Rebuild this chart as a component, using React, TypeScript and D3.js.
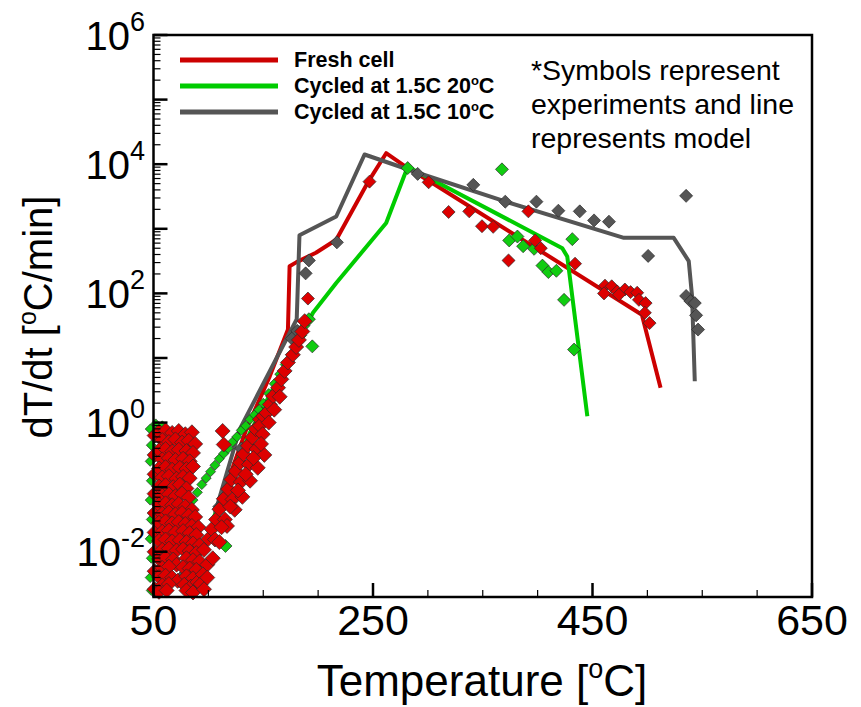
import React from "react";
import * as d3 from "d3";

const W = 861;
const H = 707;

// Axis definitions
const xDomain = [50, 650];
const xMajorTicks = [50, 250, 450, 650];
const xMinorTicks = [100, 150, 200, 300, 350, 400, 500, 550, 600];
const yExpDomain = [-2.7, 6];
const yLabelExps = [6, 4, 2, 0, -2];

// Model lines: [Temperature °C, log10(dT/dt °C/min)]
const freshModel = [
  [100, -1.75], [134.7, -0.1], [156, 0.72], [172.5, 1.44], [174, 2.42], [180, 2.48],
  [198, 2.63], [216.5, 2.83], [245, 3.71], [262, 4.17], [280, 3.96], [304, 3.71],
  [495, 1.67], [512, 0.54],
];
const cycled20Model = [
  [104, -1.5], [137.7, -0.16], [195.3, 1.7], [216.5, 2.16], [262, 3.09],
  [281.6, 3.96], [422.5, 2.7], [427, 2.57], [445.3, 0.1],
];
const cycled10Model = [
  [106, -1.4], [128.6, -0.1], [180.5, 1.6], [183, 2.9], [216.5, 3.19], [242.3, 4.15],
  [292, 3.86], [371, 3.42], [478.6, 2.86], [524, 2.86], [537.7, 2.5], [540.7, 1.96],
  [543.2, 0.64],
];

// Experiments: [Temperature °C, log10(dT/dt °C/min)]
const freshExpLow = [
  [51, -0.2], [51, -0.5], [51, -0.8], [51, -1.1], [51, -1.4], [51, -1.7], [51, -2.0],
  [51, -2.3], [51, -2.58],
  [55, -0.14], [61, -0.12], [67, -0.16], [73, -0.13], [79, -0.18], [85, -0.15],
  [58, -0.27], [64, -0.3], [70, -0.26], [76, -0.31], [82, -0.28], [88, -0.33],
  [55, -0.43], [61, -0.41], [67, -0.45], [73, -0.42], [80, -0.44], [86, -0.47],
  [58, -0.57], [64, -0.55], [70, -0.58], [77, -0.56], [83, -0.6],
  [55, -0.71], [61, -0.69], [67, -0.73], [74, -0.7], [80, -0.72], [86, -0.68],
  [58, -0.85], [64, -0.83], [71, -0.87], [77, -0.84], [83, -0.86],
  [55, -0.99], [61, -0.97], [68, -1.0], [74, -0.96], [80, -1.02],
  [58, -1.13], [64, -1.11], [70, -1.14], [76, -1.1], [82, -1.16],
  [55, -1.27], [61, -1.25], [67, -1.28], [73, -1.26], [79, -1.3], [85, -1.35],
  [58, -1.41], [64, -1.39], [70, -1.42], [76, -1.4], [82, -1.44], [88, -1.46],
  [55, -1.55], [61, -1.53], [67, -1.56], [73, -1.54], [79, -1.57], [85, -1.6], [91, -1.62],
  [58, -1.69], [64, -1.67], [70, -1.7], [77, -1.68], [83, -1.71], [89, -1.74],
  [55, -1.83], [61, -1.81], [67, -1.84], [74, -1.82], [80, -1.85], [86, -1.87], [92, -1.9],
  [58, -1.97], [64, -1.95], [71, -1.98], [77, -1.96], [83, -1.99], [89, -2.02],
  [55, -2.11], [61, -2.09], [68, -2.12], [71, -2.2], [80, -2.1], [86, -2.13], [92, -2.15],
  [58, -2.25], [64, -2.23], [77, -2.24], [83, -2.26], [89, -2.28],
  [55, -2.39], [61, -2.37], [67, -2.4], [72, -2.45], [80, -2.38], [86, -2.41],
  [58, -2.52], [64, -2.5], [78, -2.51], [84, -2.54], [90, -2.47],
  [55, -2.62], [62, -2.6], [80, -2.6], [86, -2.63],
];
const freshExpDiag = [
  [96, -1.97], [100, -1.8], [103, -1.65], [107, -1.5], [110, -1.34], [114, -1.18],
  [118, -1.03], [121, -0.88], [125, -0.75], [129, -0.62], [132, -0.49], [136, -0.36],
  [140, -0.23], [143, -0.1], [147, 0.05], [147, -0.05], [150, 0.1], [153, 0.15],
  [156, 0.28], [159, 0.41], [163.5, 0.54], [166.5, 0.67], [169.5, 0.8], [172.5, 0.93],
  [177, 1.05], [180, 1.17], [182.5, 1.28], [185.6, 1.41], [187.7, 1.57],
  [106, -1.81], [115, -1.5], [122, -1.19], [129.5, -0.92], [137, -0.65], [144, -0.41],
  [149.5, -0.18], [99, -2.2], [95, -2.35], [93, -2.5],
  [131, -1.15], [138, -0.9], [145, -0.7], [151, -0.5], [124, -1.35], [117, -1.6],
  [110, -1.85], [104, -2.1], [99, -2.4], [96, -2.58],
  [112, -1.62], [120, -1.3], [127, -1.05], [134, -0.8], [141, -0.55], [148, -0.33],
  [155, 0.0], [160, 0.2], [165, 0.4],
  [113, -0.13], [114, -0.34],
];
const freshExpHigh = [
  [190.7, 1.92], [246.8, 3.73], [300.7, 3.72], [318.9, 3.26], [337.7, 3.27],
  [349.3, 3.04], [359.5, 3.03], [373.5, 2.51], [391.6, 3.27], [397.7, 2.82],
  [402.9, 2.7], [434.1, 2.46], [461.4, 2.12], [467.5, 2.11], [460.5, 2.0],
  [472.5, 2.03], [479.5, 2.06], [484.7, 2.02], [490.7, 2.01], [474.1, 1.98],
  [492.3, 1.9], [498.4, 1.85], [497.7, 1.7], [502, 1.54],
];
const cycled20ExpLow = [
  [47, -0.1], [48, -0.35], [47, -0.6], [48, -0.9], [47, -1.2], [48, -1.5],
  [47, -1.8], [48, -2.1], [47, -2.4], [48, -2.6], [52, -0.02], [58, -0.05],
  [86, -1.2], [90, -1.08], [94, -0.96], [98, -0.86], [102, -0.76], [106, -0.66],
  [110, -0.56], [114, -0.48], [118, -0.4], [122, -0.3], [126, -0.22], [130, -0.12],
  [134, -0.05], [138, 0.05], [142, 0.12], [146, 0.2], [150, 0.3], [155, 0.45],
  [160, 0.6], [165, 0.75], [170, 0.9], [175, 1.05], [180, 1.2], [185, 1.35], [188, 1.5],
];
const cycled20ExpHigh = [
  [115.6, -1.91], [191.6, 1.6], [194.7, 1.18], [281.6, 3.94], [367.5, 3.92],
  [374.1, 2.82], [381.6, 2.88], [386.8, 2.73], [396.8, 2.69], [404.4, 2.43],
  [409.8, 2.33], [417.1, 2.35], [431.6, 2.84], [424.1, 1.9], [433.2, 1.13],
];
const cycled10Exp = [
  [60, -1.0], [75, -2.4], [110, -1.3], [130, -0.4], [176, 1.3], [181, 1.42],
  [188.6, 2.31], [191.6, 2.51], [217.1, 2.79], [290.7, 3.85], [341.4, 3.68],
  [370.5, 3.42], [398.9, 3.42], [418.9, 3.28], [438.4, 3.27], [451.4, 3.13],
  [465, 3.11], [500.7, 2.58], [535.3, 3.51], [535.3, 1.96], [539.3, 1.88],
  [543.2, 1.85], [544.4, 1.66], [546.2, 1.44],
];

const legendItems = [
  { label: "Fresh cell", sup: "", tail: "", color: "#cc0000" },
  { label: "Cycled at 1.5C 20", sup: "o", tail: "C", color: "#00cc00" },
  { label: "Cycled at 1.5C 10", sup: "o", tail: "C", color: "#555555" },
];
const noteLines = ["*Symbols represent", "experiments and line", "represents model"];

const RED_FILL = "#dd0000";
const GREEN_FILL = "#11cc11";
const GRAY_FILL = "#555555";

function Diamonds({ data, x, y, fill, r }: any) {
  return (
    <g>
      {data.map((d: number[], i: number) => {
        const cx = x(d[0]);
        const cy = y(Math.pow(10, d[1]));
        return (
          <path
            key={i}
            d={`M${cx},${cy - r}L${cx + r},${cy}L${cx},${cy + r}L${cx - r},${cy}Z`}
            fill={fill}
            stroke="#2a2a2a"
            strokeWidth={0.7}
          />
        );
      })}
    </g>
  );
}

export default function App() {
  const left = 153.5, right = 812, top = 35, bottom = 597;
  const x = d3.scaleLinear().domain(xDomain).range([left, right]);
  const y = d3
    .scaleLog()
    .domain([Math.pow(10, yExpDomain[0]), Math.pow(10, yExpDomain[1])])
    .range([bottom, top]);
  const line = d3
    .line<number[]>()
    .x((d) => x(d[0]))
    .y((d) => y(Math.pow(10, d[1])));

  const yAllTicks = y.ticks();
  const font = "'Liberation Sans', Arial, sans-serif";

  return (
    <svg
      width={W}
      height={H}
      style={{ position: "absolute", left: 0, top: 0, background: "#fff" }}
      fontFamily={font}
    >
      <rect x={0} y={0} width={W} height={H} fill="#fff" />
      {/* model lines */}
      <path d={line(freshModel as any) || ""} fill="none" stroke="#cc0000" strokeWidth={4} strokeLinejoin="round" />
      <path d={line(cycled20Model as any) || ""} fill="none" stroke="#00cc00" strokeWidth={4} strokeLinejoin="round" />
      <path d={line(cycled10Model as any) || ""} fill="none" stroke="#555555" strokeWidth={4} strokeLinejoin="round" />

      {/* experiments */}
      <Diamonds data={cycled10Exp} x={x} y={y} fill={GRAY_FILL} r={6.5} />
      <Diamonds data={cycled20ExpLow} x={x} y={y} fill={GREEN_FILL} r={5} />
      <Diamonds data={cycled20ExpHigh} x={x} y={y} fill={GREEN_FILL} r={6.5} />
      <Diamonds data={freshExpLow} x={x} y={y} fill={RED_FILL} r={7.5} />
      <Diamonds data={freshExpDiag} x={x} y={y} fill={RED_FILL} r={7.5} />
      <Diamonds data={freshExpHigh} x={x} y={y} fill={RED_FILL} r={6.5} />

      {/* frame */}
      <rect x={left} y={top} width={right - left} height={bottom - top} fill="none" stroke="#000" strokeWidth={2.5} />

      {/* y ticks */}
      {yAllTicks.map((t, i) => {
        const e = Math.log10(t);
        const major = Math.abs(e - Math.round(e)) < 1e-9;
        const yy = y(t);
        if (yy < top - 0.5 || yy > bottom + 0.5) return null;
        return (
          <line key={"yt" + i} x1={left} x2={left + (major ? 14 : 7)} y1={yy} y2={yy} stroke="#000" strokeWidth={major ? 2.5 : 1.2} />
        );
      })}
      {/* x ticks */}
      {xMajorTicks.map((t) => (
        <line key={"xM" + t} x1={x(t)} x2={x(t)} y1={bottom} y2={bottom - 14} stroke="#000" strokeWidth={2.5} />
      ))}
      {xMinorTicks.map((t) => (
        <line key={"xm" + t} x1={x(t)} x2={x(t)} y1={bottom} y2={bottom - 7} stroke="#000" strokeWidth={1.2} />
      ))}

      {/* y tick labels */}
      {yLabelExps.map((e) => (
        <text key={"yl" + e} x={145} y={y(Math.pow(10, e)) + 14.5} textAnchor="end" fontSize={40} fill="#000">
          10
          <tspan fontSize={27} dy={-19}>{e}</tspan>
        </text>
      ))}
      {/* x tick labels */}
      {xMajorTicks.map((t) => (
        <text key={"xl" + t} x={x(t)} y={635} textAnchor="middle" fontSize={43} fill="#000">
          {t}
        </text>
      ))}

      {/* axis titles */}
      <text x={482} y={696} textAnchor="middle" fontSize={44} fill="#000">
        Temperature [<tspan fontSize={27} dy={-18}>o</tspan>
        <tspan dy={18}>C]</tspan>
      </text>
      <text transform="translate(52,317) rotate(-90)" textAnchor="middle" fontSize={40} fill="#000">
        dT/dt [<tspan fontSize={25} dy={-16}>o</tspan>
        <tspan dy={16}>C/min]</tspan>
      </text>

      {/* legend */}
      {legendItems.map((it, i) => (
        <g key={"lg" + i}>
          <line x1={180} x2={278} y1={60 + i * 26} y2={60 + i * 26} stroke={it.color} strokeWidth={5} />
          <text x={294} y={67 + i * 26} fontSize={21.5} fontWeight="bold" fill="#000">
            {it.label}
            {it.sup && <tspan fontSize={13} dy={-8}>{it.sup}</tspan>}
            {it.tail && <tspan dy={8}>{it.tail}</tspan>}
          </text>
        </g>
      ))}

      {/* note */}
      {noteLines.map((s, i) => (
        <text key={"nt" + i} x={531} y={80 + i * 34} fontSize={28.5} fill="#000">
          {s}
        </text>
      ))}
    </svg>
  );
}
